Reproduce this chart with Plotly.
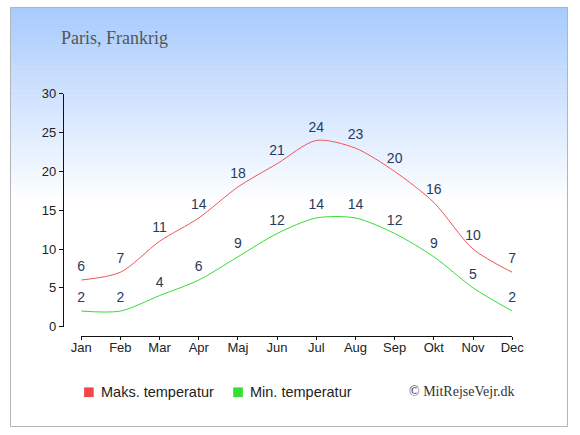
import plotly.graph_objects as go

months = ["Jan", "Feb", "Mar", "Apr", "Maj", "Jun", "Jul", "Aug", "Sep", "Okt", "Nov", "Dec"]
max_temp = [6, 7, 11, 14, 18, 21, 24, 23, 20, 16, 10, 7]
min_temp = [2, 2, 4, 6, 9, 12, 14, 14, 12, 9, 5, 2]
series_names = ["Maks. temperatur", "Min. temperatur"]

W, H = 580, 435


def px(x):
    return x / W


def py(y):
    return 1 - y / H


fig = go.Figure()

# max / min lines with value labels (invisible markers push the labels up)
for vals, col in [(max_temp, "#f05555"), (min_temp, "#33dd33")]:
    fig.add_trace(go.Scatter(
        x=months, y=vals, mode="lines+markers+text", text=[str(v) for v in vals],
        textposition="top center", textfont=dict(color="#2a3a5c", size=14),
        marker=dict(size=7, color="rgba(0,0,0,0)"),
        line=dict(color=col, width=1, shape="spline", smoothing=0.8),
        showlegend=False, cliponaxis=False, hoverinfo="x+y",
    ))

# background gradient as thin bands
shapes = []
top = (168, 203, 254)
n = 50
grad_end = 205
for i in range(n):
    y0 = grad_end * i / n
    y1 = grad_end * (i + 1) / n + 0.5
    t = i / (n - 1)
    c = tuple(int(round(top[k] + (255 - top[k]) * t)) for k in range(3))
    shapes.append(dict(type="rect", xref="paper", yref="paper", layer="below",
                       x0=0, x1=1, y0=py(y1), y1=py(y0),
                       fillcolor="rgb(%d,%d,%d)" % c, line=dict(width=0)))
shapes.append(dict(type="rect", xref="paper", yref="paper", x0=px(0.5), x1=px(W - 0.5),
                   y0=py(H - 0.5), y1=py(0.5), line=dict(color="#b4b4b4", width=1)))

# hand-made legend: square + label
annotations = []
for name, col, x0 in [(series_names[0], "#f04848", 77), (series_names[1], "#33e033", 232)]:
    shapes.append(dict(type="rect", xref="paper", yref="paper", x0=px(x0), x1=px(x0 + 10),
                       y0=py(404), y1=py(394), fillcolor=col, line=dict(width=0)))
    annotations.append(dict(text=name, x=px(x0 + 15), y=py(398.5), xref="paper", yref="paper",
                            xanchor="left", yanchor="middle", showarrow=False,
                            font=dict(size=14.5, color="#222222")))

annotations += [
    dict(text="Paris, Frankrig", x=px(51), y=py(32), xref="paper", yref="paper",
         xanchor="left", yanchor="middle", showarrow=False,
         font=dict(family="Liberation Serif, Georgia, serif", size=18, color="#555555")),
    dict(text="© MitRejseVejr.dk", x=px(527), y=py(398), xref="paper", yref="paper",
         xanchor="right", yanchor="middle", showarrow=False,
         font=dict(family="Liberation Serif, Georgia, serif", size=14, color="#333333")),
]

fig.update_layout(
    autosize=True,
    margin=dict(l=0, r=0, t=0, b=0),
    paper_bgcolor="white", plot_bgcolor="rgba(0,0,0,0)",
    font=dict(family="Liberation Sans, Arial, sans-serif", size=13, color="#222222"),
    shapes=shapes,
    annotations=annotations,
    showlegend=False,
    xaxis=dict(domain=[px(74), px(522)], range=[0, 11], anchor="free", position=py(341),
               showline=True, linecolor="#111111", linewidth=1, ticks="outside",
               ticklen=3, tickcolor="#111111", showgrid=False, zeroline=False,
               ticklabelstandoff=-4, tickfont=dict(size=13, color="#222222")),
    yaxis=dict(domain=[py(331), py(90)], range=[0, 30], anchor="free", position=px(55),
               tickvals=[0, 5, 10, 15, 20, 25, 30], showline=True, linecolor="#111111",
               linewidth=1, ticks="outside", ticklen=4, tickcolor="#111111",
               showgrid=False, zeroline=False, tickfont=dict(size=13, color="#222222")),
)

fig.write_html("out.html", default_width="100vw", default_height="100vh",
               config={"displayModeBar": False},
               post_script="document.body.style.margin='0';document.body.style.overflow='hidden';")
